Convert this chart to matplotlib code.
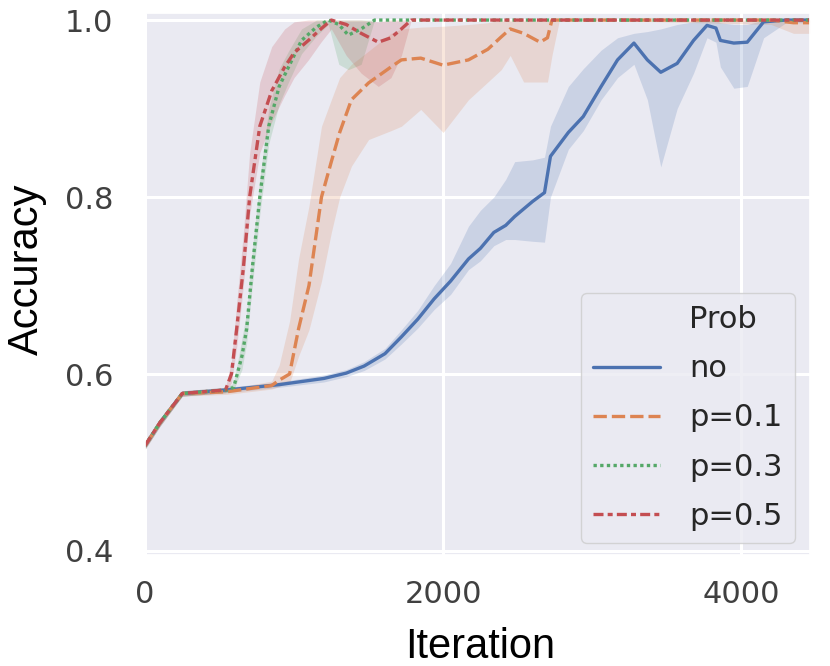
import matplotlib
matplotlib.use("Agg")
import matplotlib.pyplot as plt
import seaborn as sns
from matplotlib.lines import Line2D

# ---- data ----
labels = ["no", "p=0.1", "p=0.3", "p=0.5"]

no_x = [0, 100, 250, 550, 900, 1200, 1350, 1470, 1610, 1720, 1830, 1940, 2050, 2170, 2250,
        2340, 2420, 2480, 2600, 2680, 2720, 2840, 2940, 3060, 3170, 3280, 3370, 3460, 3570,
        3680, 3770, 3830, 3860, 3950, 4040, 4150, 4300, 4460]
no_mean = [0.519, 0.545, 0.578, 0.582, 0.588, 0.595, 0.601, 0.609, 0.623, 0.642, 0.662, 0.685,
           0.705, 0.730, 0.742, 0.760, 0.768, 0.778, 0.795, 0.805, 0.846, 0.873, 0.891, 0.925,
           0.955, 0.974, 0.955, 0.941, 0.951, 0.977, 0.994, 0.991, 0.977, 0.974, 0.975, 0.998,
           1.0, 1.0]
no_low = [0.515, 0.541, 0.575, 0.579, 0.585, 0.591, 0.597, 0.604, 0.617, 0.634, 0.652, 0.673,
          0.690, 0.718, 0.728, 0.745, 0.752, 0.752, 0.750, 0.749, 0.800, 0.854, 0.875, 0.910,
          0.935, 0.950, 0.910, 0.834, 0.900, 0.940, 0.980, 0.975, 0.947, 0.923, 0.925, 0.980,
          0.997, 0.997]
no_high = [0.523, 0.549, 0.581, 0.585, 0.591, 0.599, 0.605, 0.614, 0.629, 0.650, 0.672, 0.700,
           0.725, 0.767, 0.785, 0.800, 0.820, 0.840, 0.842, 0.845, 0.880, 0.925, 0.945, 0.966,
           0.980, 0.985, 0.987, 0.990, 0.995, 0.998, 1.0, 1.0, 0.997, 0.995, 0.995, 1.0, 1.0, 1.0]

p1_x = [0, 100, 250, 550, 850, 900, 970, 1030, 1100, 1184, 1250, 1306, 1385, 1500, 1650, 1720,
        1850, 2000, 2170, 2300, 2390, 2450, 2540, 2650, 2700, 2730, 2780, 3000, 4200, 4350, 4460]
p1_mean = [0.519, 0.545, 0.578, 0.580, 0.587, 0.593, 0.600, 0.651, 0.700, 0.800, 0.840, 0.873,
           0.910, 0.929, 0.947, 0.955, 0.957, 0.949, 0.955, 0.967, 0.981, 0.990, 0.985, 0.975,
           0.980, 1.0, 1.0, 1.0, 1.0, 0.997, 0.997]
p1_low = [0.515, 0.541, 0.575, 0.577, 0.583, 0.586, 0.590, 0.620, 0.650, 0.705, 0.760, 0.800,
          0.835, 0.865, 0.875, 0.880, 0.899, 0.873, 0.910, 0.930, 0.944, 0.960, 0.930, 0.930,
          0.930, 0.960, 1.0, 1.0, 0.995, 0.985, 0.985]
p1_high = [0.523, 0.549, 0.581, 0.583, 0.592, 0.610, 0.660, 0.730, 0.790, 0.880, 0.910, 0.935,
           0.950, 0.965, 0.985, 0.990, 0.992, 0.993, 0.995, 0.997, 1.0, 1.0, 1.0, 1.0, 1.0, 1.0,
           1.0, 1.0, 1.0, 1.0, 1.0]

p3_x = [0, 100, 250, 550, 595, 650, 682, 720, 770, 830, 900, 963, 1050, 1150, 1230, 1300, 1364,
        1450, 1540, 4460]
p3_mean = [0.519, 0.545, 0.578, 0.582, 0.585, 0.620, 0.651, 0.720, 0.800, 0.880, 0.925, 0.947,
           0.977, 0.992, 1.0, 0.995, 0.983, 0.990, 1.0, 1.0]
p3_low = [0.515, 0.541, 0.575, 0.579, 0.582, 0.605, 0.635, 0.700, 0.780, 0.860, 0.905, 0.930,
          0.962, 0.982, 0.995, 0.950, 0.944, 0.950, 1.0, 1.0]
p3_high = [0.523, 0.549, 0.581, 0.585, 0.590, 0.640, 0.670, 0.740, 0.820, 0.900, 0.945, 0.965,
           0.990, 1.0, 1.0, 1.0, 1.0, 1.0, 1.0, 1.0]

p5_x = [0, 100, 250, 540, 580, 615, 660, 702, 770, 850, 937, 1000, 1096, 1180, 1250, 1350, 1450,
        1565, 1650, 1720, 1786, 4460]
p5_mean = [0.519, 0.545, 0.578, 0.582, 0.600, 0.651, 0.720, 0.800, 0.880, 0.920, 0.947, 0.963,
           0.977, 0.990, 1.0, 0.995, 0.985, 0.975, 0.980, 0.990, 1.0, 1.0]
p5_low = [0.515, 0.541, 0.575, 0.579, 0.590, 0.630, 0.700, 0.780, 0.850, 0.885, 0.915, 0.935,
          0.955, 0.975, 0.990, 0.960, 0.940, 0.925, 0.935, 0.960, 1.0, 1.0]
p5_high = [0.523, 0.549, 0.581, 0.585, 0.615, 0.680, 0.760, 0.850, 0.930, 0.970, 0.990, 0.998,
           1.0, 1.0, 1.0, 1.0, 1.0, 0.998, 1.0, 1.0, 1.0, 1.0]

x_ticks = [0, 2000, 4000]
y_ticks = [0.4, 0.6, 0.8, 1.0]

# ---- style ----
sns.set_theme(style="darkgrid")
colors = sns.color_palette("deep")[:4]
lw = 2.4
dashes = [None, (4, 1.5), (1, 1), (3, 1.25, 1.5, 1.25)]

fig = plt.figure(figsize=(8.3, 6.66), dpi=100)
ax = fig.add_axes([0.1747, 0.1667, 0.801, 0.8138])

series = [
    (no_x, no_mean, no_low, no_high),
    (p1_x, p1_mean, p1_low, p1_high),
    (p3_x, p3_mean, p3_low, p3_high),
    (p5_x, p5_mean, p5_low, p5_high),
]
handles = [Line2D([], [], linestyle="none", label="Prob")]
for (xs, m, lo, hi), c in zip(series, colors):
    ax.fill_between(xs, lo, hi, color=c, alpha=0.2, linewidth=0)
for (xs, m, lo, hi), c, d, lab in zip(series, colors, dashes, labels):
    ln, = ax.plot(xs, m, color=c, lw=lw, label=lab)
    if d is not None:
        ln.set_dashes(d)
    handles.append(ln)

ax.set_xlim(0, 4460)
ax.set_ylim(0.3955, 1.008)
ax.set_xticks(x_ticks)
ax.set_yticks(y_ticks)
ax.set_xticklabels([str(t) for t in x_ticks])
ax.set_yticklabels([f"{t:.1f}" for t in y_ticks])
ax.grid(True, color="white", linewidth=2.2)
ax.tick_params(axis="x", labelsize=22, pad=18, colors=".25", length=0)
ax.tick_params(axis="y", labelsize=22, pad=23, colors=".25", length=0)

leg = ax.legend(handles=handles, loc="lower right", bbox_to_anchor=(0.9774, 0.0221),
                borderaxespad=0, fontsize=22, handlelength=2.2, handletextpad=0.95,
                labelspacing=0.66, framealpha=0.8)

fig.text(0.578, 0.012, "Iteration", family="Liberation Sans", fontsize=30,
         color="black", ha="center", va="baseline")
fig.text(0.032, 0.595, "Accuracy", family="Liberation Sans", fontsize=30,
         color="black", ha="center", va="center", rotation=90)

fig.savefig("out.png", dpi=100)
